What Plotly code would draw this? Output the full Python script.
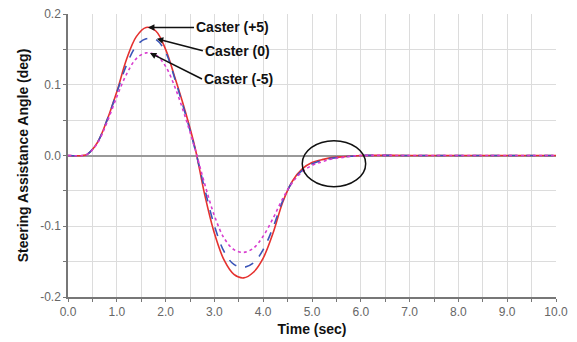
import plotly.graph_objects as go

time_s = [0, 0.3, 0.4, 0.6, 0.8, 1.0, 1.2, 1.4, 1.6, 1.8, 2.0, 2.2, 2.4, 2.6, 2.8,
          3.0, 3.2, 3.4, 3.6, 3.8, 4.0, 4.2, 4.4, 4.6, 4.8, 5.0, 5.2, 5.4, 5.6, 5.8,
          6.0, 7.0, 8.0, 9.0, 10.0]

caster_p5 = [0, 0, 0.002, 0.018, 0.05, 0.09, 0.136, 0.168, 0.181, 0.176, 0.15, 0.108,
             0.063, 0.012, -0.055, -0.11, -0.148, -0.168, -0.173, -0.165, -0.145, -0.11,
             -0.066, -0.036, -0.019, -0.01, -0.006, -0.003, -0.002, -0.001,
             0, 0, 0, 0, 0]

caster_0 = [0, 0, 0.002, 0.018, 0.05, 0.089, 0.128, 0.155, 0.165, 0.164, 0.146, 0.106,
            0.06, 0.01, -0.047, -0.099, -0.136, -0.154, -0.158, -0.152, -0.133, -0.102,
            -0.064, -0.037, -0.021, -0.012, -0.007, -0.004, -0.002, -0.001,
            0, 0, 0, 0, 0]

caster_m5 = [0, 0, 0.002, 0.017, 0.047, 0.083, 0.115, 0.137, 0.145, 0.142, 0.126, 0.095,
             0.055, 0.01, -0.04, -0.085, -0.117, -0.133, -0.137, -0.131, -0.114, -0.089,
             -0.061, -0.038, -0.023, -0.014, -0.009, -0.005, -0.003, -0.001,
             0, 0, 0, 0, 0]

x_ticks = [0, 1, 2, 3, 4, 5, 6, 7, 8, 9, 10]
x_tick_labels = ["0.0", "1.0", "2.0", "3.0", "4.0", "5.0", "6.0", "7.0", "8.0", "9.0", "10.0"]
y_ticks = [-0.2, -0.1, 0.0, 0.1, 0.2]
y_tick_labels = ["-0.2", "-0.1", "0.0", "0.1", "0.2"]

fig = go.Figure()
fig.add_trace(go.Scatter(x=time_s, y=caster_p5, mode="lines", line_shape="spline",
                         line=dict(color="#e5312f", width=1.6), name="Caster (+5)"))
fig.add_trace(go.Scatter(x=time_s, y=caster_0, mode="lines", line_shape="spline",
                         line=dict(color="#3b55b8", width=1.6, dash="dash"), name="Caster (0)"))
fig.add_trace(go.Scatter(x=time_s, y=caster_m5, mode="lines", line_shape="spline",
                         line=dict(color="#d83ccf", width=1.6, dash="dot"), name="Caster (-5)"))

fig.add_shape(type="circle", xref="x", yref="y", x0=4.8, x1=6.1, y0=-0.044, y1=0.021,
              line=dict(color="#111111", width=1.5))

afont = dict(family="Liberation Sans, Arial, sans-serif", size=14, color="#111111")
for txt, hx, hy, ax, ay in [("<b>Caster (+5)</b>", 1.64, 0.181, 46, 0),
                            ("<b>Caster (0)</b>", 1.82, 0.165, 46, 12),
                            ("<b>Caster (-5)</b>", 1.68, 0.145, 52, 26)]:
    fig.add_annotation(x=hx, y=hy, xref="x", yref="y", text=txt, showarrow=True,
                       ax=ax, ay=ay, axref="pixel", ayref="pixel", xanchor="left",
                       arrowhead=2, arrowsize=0.8, arrowwidth=1.6, arrowcolor="#111111",
                       font=afont)

# the page body has an 8px default margin, so the figure is sized to fit the window
fig.update_layout(
    width=569, height=334,
    margin=dict(l=60, r=21, t=6, b=45, autoexpand=False),
    paper_bgcolor="white", plot_bgcolor="white",
    showlegend=False,
    font=dict(family="Liberation Sans, Arial, sans-serif"),
)
fig.update_xaxes(
    range=[0, 10], tickvals=x_ticks, ticktext=x_tick_labels, automargin=False,
    ticklabeloverflow="allow",
    tickfont=dict(size=12, color="#666666"),
    showgrid=True, gridcolor="#dcdcdc", gridwidth=1,
    minor=dict(dtick=0.5, showgrid=True, gridcolor="#dcdcdc", ticks="outside", ticklen=3, tickcolor="#777777"),
    ticks="outside", ticklen=3, tickcolor="#777777",
    showline=True, linecolor="#777777", linewidth=1.5, mirror=False,
    zeroline=False,
    title=dict(text="<b>Time (sec)</b>", font=dict(size=14, color="#111111"), standoff=6),
)
fig.update_yaxes(
    range=[-0.2, 0.2], tickvals=y_ticks, ticktext=y_tick_labels, automargin=False,
    ticklabeloverflow="allow",
    tickfont=dict(size=12, color="#666666"),
    showgrid=True, gridcolor="#dcdcdc", gridwidth=1,
    minor=dict(dtick=0.05, showgrid=True, gridcolor="#dcdcdc", ticks="outside", ticklen=3, tickcolor="#777777"),
    ticks="outside", ticklen=3, tickcolor="#777777",
    showline=True, linecolor="#777777", linewidth=1.5,
    zeroline=True, zerolinecolor="#999999", zerolinewidth=1.5,
    title=dict(text="<b>Steering Assistance Angle (deg)</b>", font=dict(size=14, color="#111111"), standoff=8),
)

fig.write_html("out.html")
